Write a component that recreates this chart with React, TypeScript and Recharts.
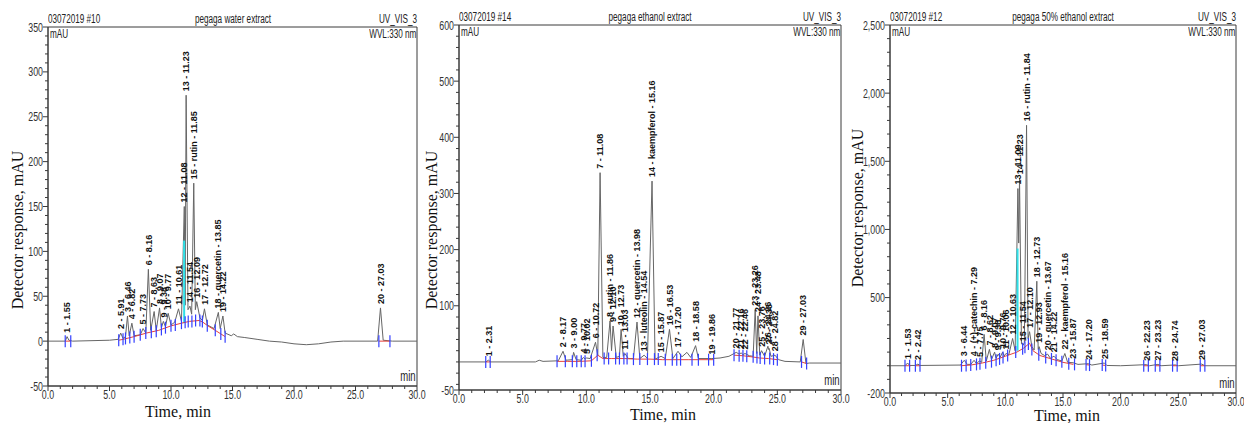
import React from 'react';
import {
  ComposedChart,
  Line,
  Scatter,
  XAxis,
  YAxis,
  ReferenceArea,
  ReferenceLine,
} from 'recharts';

// ---- water extract (03072019 #10) ----
const waterTrace: [number, number][] = [
  [0, 0], [1.4, 0], [1.55, 5], [1.7, 1], [2, 0], [5, 1], [5.7, 2], [5.91, 9], [6.1, 3],
  [6.3, 5], [6.46, 28], [6.6, 6], [6.82, 20], [7.0, 6], [7.5, 7], [7.73, 14], [7.95, 9],
  [8.16, 80], [8.35, 12], [8.63, 33], [8.8, 12], [9.07, 37], [9.22, 15], [9.38, 22],
  [9.55, 16], [9.77, 31], [10.0, 18], [10.3, 21], [10.61, 36], [10.85, 22], [11.08, 150],
  [11.15, 40], [11.23, 274], [11.38, 35], [11.54, 39], [11.68, 30], [11.85, 176],
  [11.98, 35], [12.09, 44], [12.35, 26], [12.55, 23], [12.72, 36], [12.95, 18], [13.5, 14],
  [13.85, 32], [14.0, 14], [14.22, 28], [14.4, 9], [14.9, 6], [15.1, 8], [15.4, 5], [16, 4],
  [17, 2], [18, 0], [19, -1], [20, -3], [21, -4], [22, -3], [23, -1], [24, 0], [26.8, 0],
  [27.03, 37], [27.25, 1], [28, 0], [30, 0],
];
const waterBaseline: [number, number | null][] = [
  [1.4, 0], [1.85, 0], [1.9, null],
  [5.75, 1], [6.1, 2], [7.0, 5], [8.0, 9], [9.0, 12], [10.0, 17], [10.85, 20], [11.5, 22],
  [12.3, 23], [12.6, 21], [13.0, 17], [13.6, 12], [14.4, 5], [14.5, null],
  [26.9, 0], [27.8, 0],
];
const waterMarks: [number, number][] = [
  [1.4, 0], [1.85, 0], [5.75, 1], [6.1, 2], [6.3, 3], [6.65, 4], [7.0, 5], [7.5, 7],
  [7.95, 9], [8.4, 10], [8.8, 11], [9.22, 13], [9.55, 15], [10.0, 17], [10.35, 18],
  [10.85, 20], [11.15, 21], [11.4, 22], [11.7, 22], [12.0, 23], [12.35, 23], [12.55, 22],
  [12.95, 17], [13.6, 12], [14.05, 8], [14.4, 5], [26.9, 0], [27.8, 0],
];
const waterPeaks: [number, number, string][] = [
  [1.55, 5, '1 - 1.55'], [5.91, 9, '2 - 5.91'], [6.46, 28, '3 - 6.46'], [6.82, 20, '4 - 6.82'],
  [7.73, 14, '5 - 7.73'], [8.16, 80, '6 - 8.16'], [8.63, 33, '7 - 8.63'], [9.07, 37, '8 - 9.07'],
  [9.38, 22, '9 - 9.38'], [9.77, 31, '10 - 9.77'], [10.61, 36, '11 - 10.61'],
  [11.08, 150, '12 - 11.08'], [11.23, 274, '13 - 11.23'], [11.54, 39, '14 - 11.54'],
  [11.85, 176, '15 - rutin - 11.85'], [12.09, 44, '16 - 12.09'], [12.72, 36, '17 - 12.72'],
  [13.85, 32, '18 - quercetin - 13.85'], [14.22, 28, '19 - 14.22'], [27.03, 37, '20 - 27.03'],
];
const waterHighlight: [number, number, number] = [11.07, 20, 112];

// ---- ethanol extract (03072019 #14) ----
const ethanolTrace: [number, number][] = [
  [0, 0], [2.1, 0], [2.31, 3], [2.5, 0], [6, 0], [6.3, 3], [6.6, 1], [7.8, 2], [8.17, 19],
  [8.4, 3], [8.9, 4], [9.0, 17], [9.2, 4], [9.6, 3], [9.77, 8], [9.9, 5], [10.02, 7],
  [10.3, 6], [10.72, 35], [10.9, 12], [11.08, 337], [11.3, 8], [11.6, 8], [11.86, 73],
  [11.98, 20], [12.1, 64], [12.35, 8], [12.6, 10], [12.73, 58], [12.9, 10], [13.03, 15],
  [13.3, 6], [13.7, 6], [13.98, 71], [14.2, 6], [14.54, 12], [14.8, 6], [15.16, 322],
  [15.4, 5], [15.87, 10], [16.2, 6], [16.53, 58], [16.8, 6], [17.2, 19], [17.5, 9],
  [17.9, 17], [18.2, 8], [18.58, 29], [18.8, 6], [19.86, 6], [20.5, 7], [21.2, 10],
  [21.77, 17], [22.0, 14], [22.16, 16], [22.3, 13], [22.46, 15], [22.8, 11], [23.1, 10],
  [23.26, 93], [23.38, 15], [23.48, 82], [23.62, 12], [23.76, 20], [24.0, 10], [24.26, 28],
  [24.32, 22], [24.36, 24], [24.5, 10], [24.82, 12], [25.1, 4], [25.6, 1], [26.8, 0],
  [27.03, 40], [27.25, -3], [27.5, -2], [30, -2],
];
const ethanolBaseline: [number, number | null][] = [
  [2.1, 0], [2.5, 0], [2.6, null],
  [7.7, 1], [8.5, 1], [9.5, 1], [10.4, 2], [10.9, 12], [11.3, 6], [12, 6], [13, 6],
  [14, 5], [15, 5], [16, 4], [18, 4], [20, 4], [20.1, null],
  [21.6, 12], [22.3, 11], [23, 9], [23.6, 7], [24.3, 6], [25, 4], [25.1, null],
  [26.9, 0], [27.3, -3],
];
const ethanolMarks: [number, number][] = [
  [2.1, 0], [2.45, 0], [7.7, 1], [8.35, 1], [8.9, 1], [9.25, 1], [9.6, 1], [9.9, 1],
  [10.4, 2], [10.85, 12], [11.4, 6], [11.75, 6], [12.3, 6], [12.6, 6], [12.95, 6],
  [13.2, 6], [13.7, 5], [14.2, 5], [14.8, 5], [15.35, 5], [15.65, 5], [16.2, 4], [16.75, 4],
  [17.1, 4], [17.4, 4], [18.3, 4], [18.8, 4], [19.6, 4], [20.0, 4], [21.6, 12], [22.0, 11],
  [22.3, 11], [22.6, 10], [23.1, 9], [23.4, 8], [23.65, 7], [24.0, 6], [24.4, 6],
  [24.7, 5], [25.0, 4], [26.9, 0], [27.3, -3],
];
const ethanolPeaks: [number, number, string][] = [
  [2.31, 3, '1 - 2.31'], [8.17, 19, '2 - 8.17'], [9.0, 17, '3 - 9.00'], [9.77, 8, '4 - 9.77'],
  [10.02, 7, '5 - 10.02'], [10.72, 35, '6 - 10.72'], [11.08, 337, '7 - 11.08'],
  [11.86, 73, '8 - rutin - 11.86'], [12.1, 64, '9 - 12.10'], [12.73, 58, '10 - 12.73'],
  [13.03, 15, '11 - 13.03'], [13.98, 71, '12 - quercetin - 13.98'],
  [14.54, 12, '13 - luteolin - 14.54'], [15.16, 322, '14 - kaempferol - 15.16'],
  [15.87, 10, '15 - 15.87'], [16.53, 58, '16 - 16.53'], [17.2, 19, '17 - 17.20'],
  [18.58, 29, '18 - 18.58'], [19.86, 6, '19 - 19.86'], [21.77, 17, '20 - 21.77'],
  [22.16, 16, '21 - 22.16'], [22.46, 15, '22 - 22.46'], [23.26, 93, '23 - 23.26'],
  [23.48, 82, '24 - 23.48'], [23.76, 20, '25 - 23.76'], [24.26, 28, '26 - 24.26'],
  [24.36, 24, '27 - 24.36'], [24.82, 12, '28 - 24.82'], [27.03, 40, '29 - 27.03'],
];

// ---- 50% ethanol extract (03072019 #12) ----
const mixTrace: [number, number][] = [
  [0, 0], [1.3, 0], [1.53, 20], [1.7, 2], [2.2, 2], [2.42, 12], [2.6, 2], [6.1, 5],
  [6.44, 40], [6.7, 10], [7.0, 10], [7.29, 40], [7.5, 15], [7.75, 35], [7.95, 25],
  [8.16, 230], [8.35, 35], [8.62, 120], [8.8, 45], [9.07, 100], [9.2, 55], [9.38, 85],
  [9.55, 62], [9.76, 100], [9.9, 72], [10.06, 90], [10.3, 80], [10.63, 200], [10.85, 110],
  [11.09, 1300], [11.16, 900], [11.23, 1375], [11.4, 160], [11.54, 150], [11.65, 170],
  [11.84, 1764], [11.97, 200], [12.1, 250], [12.3, 140], [12.5, 115], [12.73, 620],
  [12.85, 120], [12.93, 140], [13.1, 90], [13.4, 75], [13.67, 85], [13.9, 55], [14.22, 70],
  [14.5, 45], [14.9, 35], [15.16, 90], [15.4, 25], [15.87, 22], [16.3, 10], [17.2, 15],
  [17.5, 5], [18.59, 20], [18.8, 2], [20, 0], [22.23, 8], [22.5, 0], [23.23, 10], [23.5, 0],
  [24.74, 6], [25, 0], [27.03, 12], [27.3, 0], [30, 0],
];
const mixBaseline: [number, number | null][] = [
  [1.3, 0], [1.8, 0], [1.9, null], [2.2, 0], [2.6, 0], [2.7, null],
  [6.1, 0], [7, 5], [8, 20], [9, 40], [10, 70], [11, 100], [11.6, 130], [12.1, 165],
  [12.4, 110], [13, 75], [14, 50], [15, 25], [15.9, 10], [16, null],
  [17.0, 8], [17.3, 5], [17.4, null], [18.4, 5], [18.7, 2], [18.8, null],
  [22.0, 0], [22.4, 0], [22.5, null], [23.0, 0], [23.4, 0], [23.5, null],
  [24.5, 0], [24.9, 0], [25, null], [26.9, 0], [27.3, 0],
];
const mixMarks: [number, number][] = [
  [1.3, 0], [1.7, 0], [2.2, 0], [2.6, 0], [6.2, 0], [6.6, 2], [7.0, 5], [7.5, 10],
  [7.8, 15], [8.3, 22], [8.8, 30], [9.2, 40], [9.5, 50], [9.8, 60], [10.2, 75], [10.9, 100],
  [11.5, 125], [11.7, 135], [12.0, 160], [12.3, 120], [12.9, 80], [13.5, 60], [14.0, 50],
  [14.4, 40], [14.9, 30], [15.5, 15], [16.0, 10], [17.0, 8], [17.3, 5], [18.4, 5],
  [18.7, 2], [22.0, 0], [22.4, 0], [23.0, 0], [23.4, 0], [24.5, 0], [24.9, 0], [26.9, 0],
  [27.3, 0],
];
const mixPeaks: [number, number, string][] = [
  [1.53, 20, '1 - 1.53'], [2.42, 12, '2 - 2.42'], [6.44, 40, '3 - 6.44'],
  [7.29, 40, '4 - (+)-catechin - 7.29'], [7.75, 35, '5 - 7.75'], [8.16, 230, '6 - 8.16'],
  [8.62, 120, '7 - 8.62'], [9.07, 100, '8 - 9.07'], [9.38, 85, '9 - 9.38'],
  [9.76, 100, '10 - 9.76'], [10.06, 90, '11 - 10.06'], [10.63, 200, '12 - 10.63'],
  [11.09, 1300, '13 - 11.09'], [11.23, 1375, '14 - 11.23'], [11.54, 150, '15 - 11.54'],
  [11.84, 1764, '16 - rutin - 11.84'], [12.1, 250, '17 - 12.10'], [12.73, 620, '18 - 12.73'],
  [12.93, 140, '19 - 12.93'], [13.67, 85, '20 - quercetin - 13.67'], [14.22, 70, '21 - 14.22'],
  [15.16, 90, '22 - kaempferol - 15.16'], [15.87, 22, '23 - 15.87'], [17.2, 15, '24 - 17.20'],
  [18.59, 20, '25 - 18.59'], [22.23, 8, '26 - 22.23'], [23.23, 10, '27 - 23.23'],
  [24.74, 6, '28 - 24.74'], [27.03, 12, '29 - 27.03'],
];
const mixHighlight: [number, number, number] = [11.06, 110, 860];

// axis ticks
const timeTicks = Array.from({ length: 31 }, (_, i) => i);
const waterYTicks = Array.from({ length: 41 }, (_, i) => -50 + i * 10);
const waterYLabels = [-50, 0, 50, 100, 150, 200, 250, 300, 350];
const ethanolYTicks = [-50, ...Array.from({ length: 33 }, (_, i) => -40 + i * 20)];
const ethanolYLabels = [-50, 100, 200, 300, 400, 500, 600];
const mixYTicks = Array.from({ length: 28 }, (_, i) => -200 + i * 100);
const mixYLabels = [-200, 500, 1000, 1500, 2000, 2500];

// no narrow font installed: Liberation Sans squeezed horizontally instead
const SANS = '"Liberation Sans", Arial, sans-serif';
const SQUEEZE = 0.68;
const SERIF = '"Liberation Serif", "Times New Roman", serif';
const AXIS = '#3a3a3a';
const X_AXIS_H = 20;
const H = 423;

const toPts = (rows: [number, number | null][]) => rows.map(([t, v]) => ({ t, v }));

type PanelCfg = {
  left: number;
  width: number;
  plot: { l: number; r: number; t: number; b: number };
  domain: [number, number];
  yTicks: number[];
  yLabels: number[];
  fmtY: (v: number) => string;
  trace: [number, number][];
  baseline: [number, number | null][];
  marks: [number, number][];
  peaks: [number, number, string][];
  highlight?: [number, number, number];
  header: [string, string, string];
  yTitle: [number, number];
  xTitle: [number, number];
};

const TimeTick = (props: any) => {
  const { x, y, payload } = props;
  const major = payload.value % 5 === 0;
  return (
    <g>
      <line x1={x} x2={x} y1={y} y2={y + (major ? 5 : 3)} stroke={AXIS} />
      {major && (
        <text transform={`translate(${x},${y + 4}) scale(${SQUEEZE},1)`} dy="0.71em"
          textAnchor="middle" fontSize={13} fontFamily={SANS} fill="#333">
          {payload.value.toFixed(1)}
        </text>
      )}
    </g>
  );
};

const makeYTick = (labels: number[], fmt: (v: number) => string) => (props: any) => {
  const { x, y, payload } = props;
  const major = labels.includes(payload.value);
  return (
    <g>
      <line x1={x - (major ? 5 : 3)} x2={x} y1={y} y2={y} stroke={AXIS} />
      {major && (
        <text transform={`translate(${x - 5},${y}) scale(${SQUEEZE},1)`} dy="0.35em"
          textAnchor="end" fontSize={13} fontFamily={SANS} fill="#333">
          {fmt(payload.value)}
        </text>
      )}
    </g>
  );
};

const PeakLabel = (props: any) => {
  const { cx, cy, payload } = props;
  if (cx == null || cy == null) return null;
  const y0 = cy - 4;
  return (
    <text x={cx} y={y0} dy="0.35em" transform={`rotate(-90 ${cx} ${y0})`}
      fontSize={9} fontWeight="bold" fontFamily={SANS} fill="#111">
      {payload.label}
    </text>
  );
};

const MarkTick = (props: any) => {
  const { cx, cy } = props;
  if (cx == null || cy == null) return null;
  return <line x1={cx} x2={cx} y1={cy - 6} y2={cy + 6} stroke="#3440ff" strokeWidth={1.2} />;
};

const textBase: React.CSSProperties = {
  position: 'absolute',
  fontFamily: SANS,
  fontSize: 12,
  color: '#222',
  whiteSpace: 'nowrap',
  lineHeight: '13px',
};

function Panel({ cfg }: { cfg: PanelCfg }) {
  const { left, width, plot, domain } = cfg;
  const margin = {
    top: plot.t,
    right: left + width - plot.r,
    bottom: H - plot.b - X_AXIS_H,
    left: 0,
  };
  const trace = toPts(cfg.trace);
  const baseline = toPts(cfg.baseline);
  const marks = toPts(cfg.marks);
  const peaks = cfg.peaks.map(([t, v, label]) => ({ t, v, label }));
  const cx = (plot.l + plot.r) / 2;
  const right = 1244 - plot.r;

  return (
    <>
      <div style={{ position: 'absolute', left, top: 0 }}>
        <ComposedChart width={width} height={H} margin={margin}>
          <XAxis dataKey="t" type="number" domain={[0, 30]} ticks={timeTicks} interval={0}
            allowDataOverflow height={X_AXIS_H} tickSize={0} tickMargin={0} tickLine={false}
            axisLine={{ stroke: AXIS }} tick={<TimeTick />} />
          <YAxis dataKey="v" type="number" domain={domain} ticks={cfg.yTicks} interval={0}
            allowDataOverflow width={plot.l - left} tickSize={0} tickMargin={0} tickLine={false}
            axisLine={{ stroke: AXIS }} tick={makeYTick(cfg.yLabels, cfg.fmtY)} />
          <ReferenceArea x1={0} x2={30} y1={domain[0]} y2={domain[1]} fill="none"
            stroke={AXIS} strokeWidth={1} ifOverflow="visible" />
          <Line data={trace} dataKey="v" type="linear" stroke="#666" strokeWidth={1}
            dot={false} isAnimationActive={false} />
          {cfg.highlight && (
            <ReferenceLine
              segment={[
                { x: cfg.highlight[0], y: cfg.highlight[1] },
                { x: cfg.highlight[0], y: cfg.highlight[2] },
              ]}
              stroke="#2fe0e8" strokeWidth={2}
            />
          )}
          <Line data={baseline} dataKey="v" type="linear" stroke="#e8403a" strokeWidth={1}
            dot={false} connectNulls={false} isAnimationActive={false} />
          <Scatter data={marks} dataKey="v" shape={<MarkTick />} isAnimationActive={false} />
          <Scatter data={peaks} dataKey="v" shape={<PeakLabel />} isAnimationActive={false} />
        </ComposedChart>
      </div>
      {/* header line above the plot box */}
      <div style={{
        ...textBase, left: plot.l, top: plot.t - 14,
        transform: `scaleX(${SQUEEZE})`, transformOrigin: 'left center',
      }}>{cfg.header[0]}</div>
      <div style={{
        ...textBase, left: cx, top: plot.t - 14,
        transform: `translateX(-50%) scaleX(${SQUEEZE})`,
      }}>{cfg.header[1]}</div>
      <div style={{
        ...textBase, right, top: plot.t - 14,
        transform: `scaleX(${SQUEEZE})`, transformOrigin: 'right center',
      }}>{cfg.header[2]}</div>
      {/* texts inside the plot box */}
      <div style={{
        ...textBase, left: plot.l + 2, top: plot.t + 1,
        transform: `scaleX(${SQUEEZE})`, transformOrigin: 'left center',
      }}>mAU</div>
      <div style={{
        ...textBase, right: right + 1, top: plot.t + 1,
        transform: `scaleX(${SQUEEZE})`, transformOrigin: 'right center',
      }}>WVL:330 nm</div>
      <div style={{
        ...textBase, right: right + 1, top: plot.b - 16, fontSize: 14,
        transform: `scaleX(${SQUEEZE})`, transformOrigin: 'right center',
      }}>min</div>
      {/* axis titles */}
      <div style={{
        position: 'absolute', left: cfg.yTitle[0], top: cfg.yTitle[1], fontFamily: SERIF,
        fontSize: 16, whiteSpace: 'nowrap', color: '#111',
        transform: 'translate(-50%, -50%) rotate(-90deg)',
      }}>
        Detector response, mAU
      </div>
      <div style={{
        position: 'absolute', left: cfg.xTitle[0], top: cfg.xTitle[1], fontFamily: SERIF,
        fontSize: 16, whiteSpace: 'nowrap', color: '#111', transform: 'translate(-50%, -50%)',
      }}>
        Time, min
      </div>
    </>
  );
}

// panel widths leave a few px right of each plot box so the "30.0" label is not clipped
const panels: PanelCfg[] = [
  {
    left: 0, width: 430, plot: { l: 48, r: 417, t: 27, b: 386 }, domain: [-50, 350],
    yTicks: waterYTicks, yLabels: waterYLabels, fmtY: (v) => String(v),
    trace: waterTrace, baseline: waterBaseline, marks: waterMarks, peaks: waterPeaks,
    highlight: waterHighlight,
    header: ['03072019 #10', 'pegaga water extract', 'UV_VIS_3'],
    yTitle: [18, 230], xTitle: [178, 412],
  },
  {
    left: 415, width: 438, plot: { l: 459, r: 841, t: 25, b: 390 }, domain: [-50, 600],
    yTicks: ethanolYTicks, yLabels: ethanolYLabels, fmtY: (v) => String(v),
    trace: ethanolTrace, baseline: ethanolBaseline, marks: ethanolMarks, peaks: ethanolPeaks,
    header: ['03072019 #14', 'pegaga ethanol extract', 'UV_VIS_3'],
    yTitle: [432, 230], xTitle: [663, 415],
  },
  {
    left: 830, width: 414, plot: { l: 890, r: 1236, t: 25, b: 393 }, domain: [-200, 2500],
    yTicks: mixYTicks, yLabels: mixYLabels, fmtY: (v) => v.toLocaleString('en-US'),
    trace: mixTrace, baseline: mixBaseline, marks: mixMarks, peaks: mixPeaks,
    highlight: mixHighlight,
    header: ['03072019 #12', 'pegaga 50% ethanol extract', 'UV_VIS_3'],
    yTitle: [858, 208], xTitle: [1067, 416],
  },
];

export default function App() {
  return (
    <div style={{
      position: 'absolute', left: 0, top: 0, width: 1244, height: 423,
      background: '#fff', overflow: 'hidden',
    }}>
      {panels.map((p) => (
        <Panel key={p.header[0]} cfg={p} />
      ))}
    </div>
  );
}
